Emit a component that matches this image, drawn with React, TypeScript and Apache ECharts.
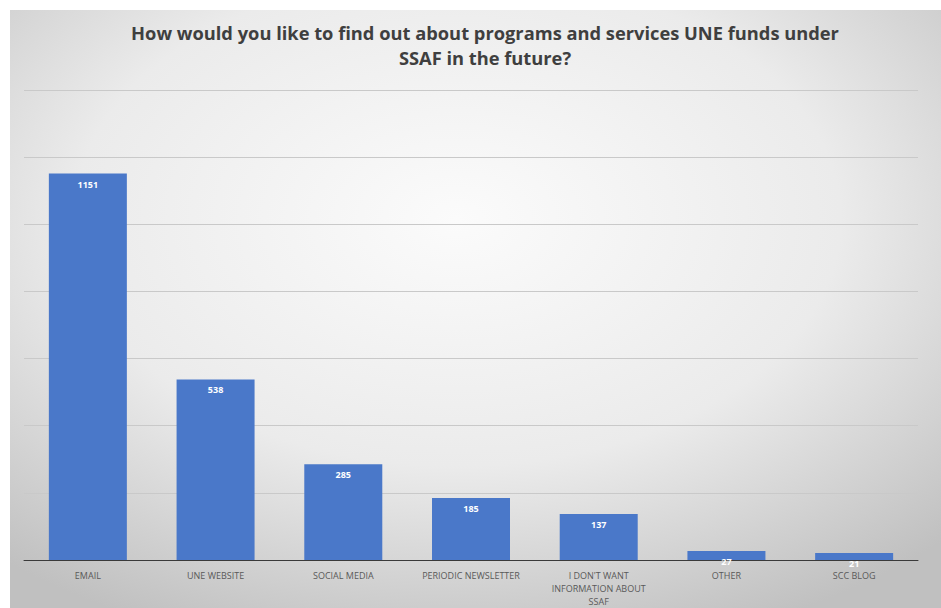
import React, { useEffect, useRef } from "react";
import * as echarts from "echarts";

const titleText = "How would you like to find out about programs and services UNE funds under\nSSAF in the future?";
const categories = ["EMAIL", "UNE WEBSITE", "SOCIAL MEDIA", "PERIODIC NEWSLETTER", "I DON'T WANT INFORMATION ABOUT SSAF", "OTHER", "SCC BLOG"];
const responses = [1151, 538, 285, 185, 137, 27, 21];

function wrapLabel(text: string, maxChars: number): string {
  const words = text.split(" ");
  const lines: string[] = [];
  let cur = "";
  for (const w of words) {
    const next = cur ? cur + " " + w : w;
    if (next.length > maxChars && cur) {
      lines.push(cur);
      cur = w;
    } else {
      cur = next;
    }
  }
  if (cur) lines.push(cur);
  return lines.join("\n");
}

export default function App() {
  const ref = useRef<HTMLDivElement>(null);
  useEffect(() => {
    if (!ref.current) return;
    const chart = echarts.init(ref.current, undefined, { renderer: "svg" });
    chart.setOption({
      animation: false,
      backgroundColor: "#ffffff",
      graphic: [
        {
          type: "rect",
          z: -10,
          silent: true,
          shape: { x: 10, y: 10, width: 931, height: 598 },
          style: {
            fill: new echarts.graphic.RadialGradient(0.48, 0.35, 0.75, [
              { offset: 0, color: "#fbfbfb" },
              { offset: 0.55, color: "#ebebeb" },
              { offset: 1, color: "#c0c0c0" },
            ]),
          },
        },
      ],
      title: {
        text: titleText,
        left: 480,
        top: 15,
        textAlign: "center",
        textStyle: {
          fontFamily: "Open Sans",
          fontWeight: "bold",
          fontSize: 18.3,
          lineHeight: 25,
          color: "#3f3f3f",
        },
      },
      grid: { left: 24, right: 23, top: 90, bottom: 48, containLabel: false },
      xAxis: {
        type: "category",
        data: categories,
        axisLine: { lineStyle: { color: "#3a3a3a", width: 1 } },
        axisTick: { show: false },
        axisLabel: {
          interval: 0,
          color: "#595959",
          fontFamily: "Open Sans",
          fontSize: 9,
          lineHeight: 13,
          margin: 9,
          formatter: (v: string) => wrapLabel(v, 20),
        },
      },
      yAxis: {
        type: "value",
        min: 0,
        max: 1400,
        interval: 200,
        axisLabel: { show: false },
        axisLine: { show: false },
        axisTick: { show: false },
        splitLine: { lineStyle: { color: "#c9c9c9", width: 1 } },
      },
      series: [
        {
          type: "bar",
          data: responses,
          barWidth: 78,
          itemStyle: { color: "#4a78c9" },
          label: {
            show: true,
            position: "insideTop",
            distance: 6,
            color: "#ffffff",
            fontFamily: "Open Sans",
            fontWeight: "bold",
            fontSize: 9,
          },
        },
      ],
    });
    return () => chart.dispose();
  }, []);
  return <div ref={ref} style={{ position: "absolute", left: 0, top: 0, width: 941, height: 608 }} />;
}
